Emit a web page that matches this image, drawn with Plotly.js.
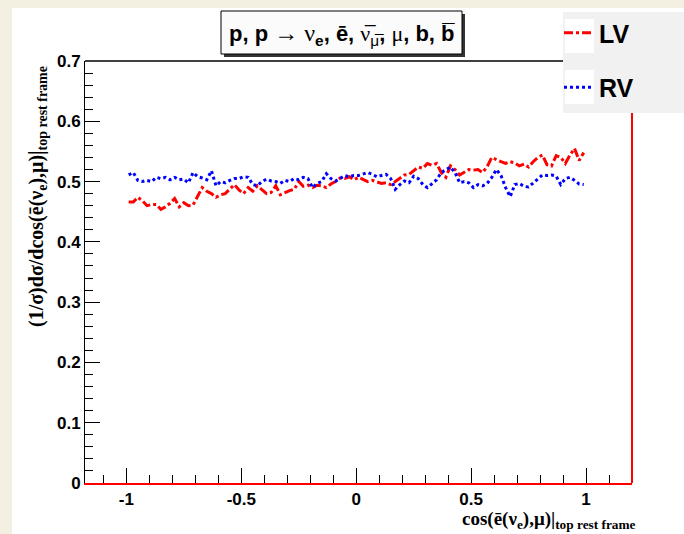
<!DOCTYPE html>
<html>
<head>
<meta charset="utf-8">
<script src="https://cdn.plot.ly/plotly-3.0.1.min.js"></script>
<style>
html, body { margin:0; padding:0; background:#f4f0e1; width:684px; height:534px; overflow:hidden; }
#chart { position:absolute; left:12px; top:8px; width:672px; height:526px; background:#fff; }
</style>
</head>
<body>
<div id="chart"></div>
<script>
// Histogram binning: 100 bins on [-1, 1]
const nBins = 100;
const xMin = -1;
const xMax = 1;

// LV (red, dash-dot) bin contents
const lvValues = [
  0.466, 0.466, 0.474, 0.468, 0.460, 0.462, 0.462, 0.454, 0.458, 0.464,
  0.472, 0.458, 0.465, 0.460, 0.461, 0.476, 0.490, 0.484, 0.480, 0.474,
  0.478, 0.480, 0.488, 0.495, 0.486, 0.480, 0.490, 0.484, 0.493, 0.486,
  0.480, 0.482, 0.493, 0.478, 0.482, 0.485, 0.487, 0.500, 0.492, 0.494,
  0.490, 0.494, 0.493, 0.490, 0.496, 0.500, 0.506, 0.505, 0.508, 0.503,
  0.507, 0.503, 0.500, 0.502, 0.500, 0.497, 0.498, 0.495, 0.500, 0.505,
  0.511, 0.512, 0.518, 0.524, 0.522, 0.530, 0.527, 0.530, 0.515, 0.507,
  0.526, 0.520, 0.511, 0.516, 0.520, 0.519, 0.520, 0.515, 0.525, 0.540,
  0.536, 0.533, 0.530, 0.533, 0.531, 0.526, 0.529, 0.524, 0.533, 0.540,
  0.544, 0.528, 0.526, 0.543, 0.540, 0.530, 0.544, 0.555, 0.535, 0.548
];

// RV (blue, dotted) bin contents
const rvValues = [
  0.511, 0.515, 0.502, 0.500, 0.502, 0.500, 0.507, 0.505, 0.507, 0.503,
  0.507, 0.503, 0.504, 0.498, 0.515, 0.508, 0.506, 0.503, 0.518, 0.493,
  0.500, 0.498, 0.502, 0.505, 0.505, 0.508, 0.507, 0.495, 0.493, 0.500,
  0.504, 0.501, 0.500, 0.497, 0.502, 0.500, 0.505, 0.503, 0.507, 0.505,
  0.490, 0.497, 0.500, 0.513, 0.505, 0.501, 0.505, 0.510, 0.508, 0.510,
  0.510, 0.513, 0.515, 0.512, 0.508, 0.510, 0.512, 0.505, 0.487, 0.495,
  0.501, 0.498, 0.509, 0.505, 0.495, 0.490, 0.496, 0.503, 0.515, 0.520,
  0.524, 0.515, 0.498, 0.500, 0.498, 0.490, 0.495, 0.493, 0.497, 0.507,
  0.520, 0.510, 0.490, 0.475, 0.495, 0.497, 0.492, 0.491, 0.498, 0.505,
  0.511, 0.510, 0.511, 0.509, 0.495, 0.505, 0.507, 0.502, 0.496, 0.495
];

const seriesNames = ["LV", "RV"];
const xTickVals = [-1, -0.5, 0, 0.5, 1];
const xTickText = ["-1", "-0.5", "0", "0.5", "1"];

const binWidth = (xMax - xMin) / nBins;
const binCenters = [];
for (let i = 0; i < nBins; i++) binCenters.push(+(xMin + (i + 0.5) * binWidth).toFixed(4));

const sansB = "Liberation Sans, Arial, sans-serif";
const serif = "Liberation Serif, Times New Roman, serif";
const tickFont = {family: sansB, size: 17, color: "#000", weight: "bold"};

const traces = [
  {x: binCenters, y: lvValues, mode: "lines", name: seriesNames[0], legendgroup: "g1",
   line: {color: "#ff0000", width: 3, dash: "dashdot"}},
  {x: binCenters, y: rvValues, mode: "lines", name: seriesNames[1], legendgroup: "g2",
   line: {color: "#0000ff", width: 3, dash: "dot"}}
];

// pixel helpers for paper coords (plot area: x 85..632, y 61..483 page coords)
const PL = 85, PR = 632, PT = 61, PB = 483;
const px = v => (v - PL) / (PR - PL);
const py = v => 1 - (v - PT) / (PB - PT);

const titleText =
  "<b>p, p</b> <span style='font-family:Liberation Serif;font-size:24px'>→ ν</span><sub><b>e</b></sub><b>, \u0113, </b>" +
  "<span style='font-family:Liberation Serif'>\u03BD\u0305</span><sub>\u03BC\u0305</sub><b>, </b>" +
  "<span style='font-family:Liberation Serif'>μ</span><b>, b, b\u0305</b>";

const layout = {
  width: 672, height: 526,
  margin: {l: 73, r: 52, t: 53, b: 51, autoexpand: false},
  paper_bgcolor: "#ffffff",
  plot_bgcolor: "#ffffff",
  showlegend: true,
  legend: {
    x: px(559), y: py(10), xanchor: "left", yanchor: "top",
    bgcolor: "rgba(0,0,0,0)", borderwidth: 0,
    font: {family: sansB, size: 25, color: "#000", weight: "bold"},
    tracegroupgap: 19, itemwidth: 30
  },
  xaxis: {
    range: [-1.18, 1.2],
    tickmode: "array", tickvals: xTickVals, ticktext: xTickText,
    ticks: "inside", ticklen: 15, tickwidth: 1, tickcolor: "#000",
    minor: {tickmode: "linear", tick0: 0, dtick: 0.1, ticks: "inside", ticklen: 8, tickcolor: "#000", tickwidth: 1},
    showline: true, linecolor: "#ff0000", linewidth: 2,
    showgrid: false, zeroline: false, tickfont: tickFont
  },
  yaxis: {
    range: [0, 0.7], tickmode: "linear", tick0: 0, dtick: 0.1,
    ticks: "inside", ticklen: 15, tickwidth: 1, tickcolor: "#000",
    minor: {tickmode: "linear", tick0: 0, dtick: 0.02, ticks: "inside", ticklen: 8, tickcolor: "#000", tickwidth: 1},
    showline: true, linecolor: "#000", linewidth: 1,
    showgrid: false, zeroline: false, tickfont: tickFont
  },
  shapes: [
    {type: "line", xref: "paper", yref: "paper", x0: 0, x1: 1, y0: 1, y1: 1, line: {color: "#000", width: 1.5}, layer: "above"},
    {type: "line", xref: "paper", yref: "paper", x0: 1, x1: 1, y0: 0, y1: 1, line: {color: "#ff0000", width: 2}, layer: "above"},
    // title pave shadow + box
    {type: "rect", xref: "paper", yref: "paper", x0: px(224), x1: px(465), y0: py(57), y1: py(14), fillcolor: "#333", line: {width: 0}, layer: "above"},
    {type: "rect", xref: "paper", yref: "paper", x0: px(221), x1: px(462), y0: py(54), y1: py(11), fillcolor: "#fbfbfb", line: {color: "#000", width: 1}, layer: "above"},
    // legend pave
    {type: "rect", xref: "paper", yref: "paper", x0: px(563), x1: px(690), y0: py(113), y1: py(12), fillcolor: "#f1f1f1", line: {width: 0}, layer: "above"},
    {type: "rect", xref: "paper", yref: "paper", x0: px(565), x1: px(594), y0: py(53), y1: py(19), fillcolor: "#ffffff", line: {width: 0}, layer: "above"},
    {type: "rect", xref: "paper", yref: "paper", x0: px(565), x1: px(594), y0: py(104), y1: py(70), fillcolor: "#ffffff", line: {width: 0}, layer: "above"}
  ],
  annotations: [
    {xref: "paper", yref: "paper", x: px(342), y: py(34), xanchor: "center", yanchor: "middle",
     showarrow: false, text: titleText, font: {family: sansB, size: 22, color: "#000"}},
    {xref: "paper", yref: "paper", x: px(37), y: py(197), xanchor: "center", yanchor: "middle",
     showarrow: false, textangle: -90,
     text: "<b>(1/σ)dσ/dcos(\u0113(ν<sub>e</sub>),μ)|<sub>top rest frame</sub></b>",
     font: {family: serif, size: 20, color: "#000"}},
    {xref: "paper", yref: "paper", x: px(638), y: py(520), xanchor: "right", yanchor: "middle",
     showarrow: false,
     text: "<b>cos(\u0113(ν<sub>e</sub>),μ)|<sub>top rest frame</sub></b>",
     font: {family: serif, size: 19, color: "#000"}}
  ]
};

Plotly.newPlot("chart", traces, layout, {displayModeBar: false, staticPlot: true});
</script>
</body>
</html>
